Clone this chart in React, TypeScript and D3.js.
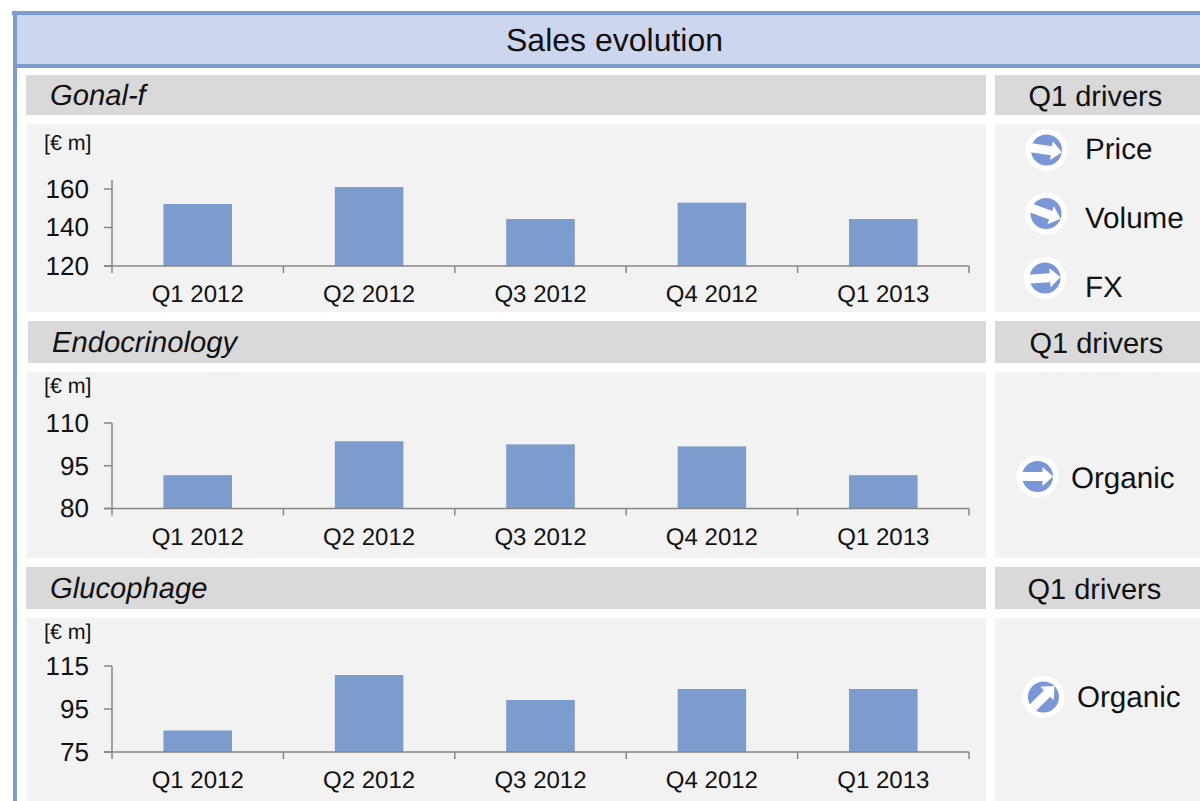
import React from "react";
import * as d3 from "d3";

const quarters = ["Q1 2012", "Q2 2012", "Q3 2012", "Q4 2012", "Q1 2013"];
const gonalValues = [152.2, 161, 144.4, 152.9, 144.4];
const endoValues = [91.7, 103.6, 102.5, 101.8, 91.7];
const glucoValues = [85, 110.8, 99.2, 104.3, 104.3];
const gonalTicks = [120, 140, 160];
const endoTicks = [80, 95, 110];
const glucoTicks = [75, 95, 115];

const FONT = "'Liberation Sans', Arial, sans-serif";
const BLUE = "#7c9cce";
const AXIS = "#868686";

type PanelProps = {
  name: string; nameX: number; barX: number; barY: number; barH: number; panelY: number; panelH: number;
  driversX: number; unitY: number; values: number[]; ticks: number[];
  axisTop: number; axisBottomY: number; topTickY: number; catY: number;
};

function Panel(p: PanelProps) {
  const x = d3.scaleBand<string>().domain(quarters).range([112, 969]).paddingInner(0.6).paddingOuter(0.3);
  const y = d3.scaleLinear().domain([p.ticks[0], p.ticks[2]]).range([p.axisBottomY, p.topTickY]);
  const step = x.step();
  const edges = d3.range(quarters.length + 1).map((i) => 112 + i * step);
  return (
    <g>
      <rect x={p.barX} y={p.barY} width={986 - p.barX} height={p.barH} fill="#d9d9d9" />
      <rect x={995} y={p.barY} width={205} height={p.barH} fill="#d9d9d9" />
      <rect x={27} y={p.panelY} width={959} height={p.panelH} fill="#f2f2f2" />
      <rect x={995} y={p.panelY} width={205} height={p.panelH} fill="#f2f2f2" />
      <text x={p.nameX} y={p.barY + p.barH / 2 + 10} fontSize={29.2} fontStyle="italic" fill="#111">{p.name}</text>
      <text x={p.driversX} y={p.barY + p.barH / 2 + 10.5} fontSize={29} fill="#111">Q1 drivers</text>
      <text x={44} y={p.unitY} fontSize={21.4} fill="#111">[€ m]</text>
      {quarters.map((q, i) => (
        <rect key={q} x={x(q)} y={y(p.values[i])} width={x.bandwidth()} height={p.axisBottomY - y(p.values[i])} fill={BLUE} />
      ))}
      <line x1={112} x2={112} y1={p.axisTop} y2={p.axisBottomY} stroke={AXIS} strokeWidth={1.5} />
      <line x1={104} x2={969} y1={p.axisBottomY} y2={p.axisBottomY} stroke={AXIS} strokeWidth={1.5} />
      {p.ticks.map((t) => (
        <g key={t}>
          <line x1={104} x2={112} y1={y(t)} y2={y(t)} stroke={AXIS} strokeWidth={1.5} />
          <text x={89} y={y(t) + 8.8} fontSize={26} textAnchor="end" fill="#111" style={{ fontKerning: "none" }}>{t}</text>
        </g>
      ))}
      {edges.map((e) => (
        <line key={e} x1={e} x2={e} y1={p.axisBottomY} y2={p.axisBottomY + 7} stroke={AXIS} strokeWidth={1.5} />
      ))}
      {quarters.map((q) => (
        <text key={q} x={x(q)! + x.bandwidth() / 2} y={p.catY} fontSize={24} textAnchor="middle" fill="#111">{q}</text>
      ))}
    </g>
  );
}

function Driver({ cx, cy, angle, label, labelX, labelY }: { cx: number; cy: number; angle: number; label: string; labelX: number; labelY: number }) {
  return (
    <g>
      <circle cx={cx} cy={cy} r={21} fill="#ffffff" />
      <circle cx={cx} cy={cy} r={15.5} fill="#7b96d6" />
      <path
        transform={`translate(${cx},${cy}) rotate(${angle})`}
        d="M-16,-4.5 L5,-4.5 L5,-9.5 L15.5,0 L5,9.5 L5,4.5 L-16,4.5 Z"
        fill="#ffffff"
      />
      <text x={labelX} y={labelY} fontSize={29.6} fill="#111">{label}</text>
    </g>
  );
}

export default function App() {
  return (
    <svg width={1200} height={801} textRendering="geometricPrecision" style={{ position: "absolute", left: 0, top: 0, fontFamily: FONT }}>
      <rect width={1200} height={801} fill="#ffffff" />
      <rect x={14} y={13} width={1186} height={53} fill="#ccd7ef" />
      <rect x={12} y={11} width={1188} height={4} fill={BLUE} />
      <rect x={13} y={64} width={1187} height={4} fill={BLUE} />
      <rect x={13} y={11} width={4} height={790} fill={BLUE} />
      <text x={614.5} y={51} fontSize={32} textAnchor="middle" fill="#111">Sales evolution</text>

      <Panel name="Gonal-f" nameX={50} barX={26} barY={75} barH={40} panelY={124} panelH={188} driversX={1028.5} unitY={150}
        values={gonalValues} ticks={gonalTicks} axisTop={180} topTickY={189} axisBottomY={266} catY={302} />
      <Panel name="Endocrinology" nameX={52} barX={28} barY={321} barH={42} panelY={372} panelH={186} driversX={1029.5} unitY={393}
        values={endoValues} ticks={endoTicks} axisTop={423} topTickY={423} axisBottomY={508.5} catY={545} />
      <Panel name="Glucophage" nameX={50} barX={26} barY={567} barH={42} panelY={618} panelH={183} driversX={1027.5} unitY={639}
        values={glucoValues} ticks={glucoTicks} axisTop={666} topTickY={666} axisBottomY={752} catY={788} />

      <Driver cx={1046.5} cy={150} angle={8} label="Price" labelX={1085} labelY={159} />
      <Driver cx={1046} cy={213.5} angle={20} label="Volume" labelX={1085} labelY={228} />
      <Driver cx={1045} cy={278} angle={-4} label="FX" labelX={1085} labelY={297} />
      <Driver cx={1037.5} cy={476.5} angle={0} label="Organic" labelX={1071} labelY={488} />
      <Driver cx={1043.5} cy={697} angle={-45} label="Organic" labelX={1077} labelY={707} />
    </svg>
  );
}
